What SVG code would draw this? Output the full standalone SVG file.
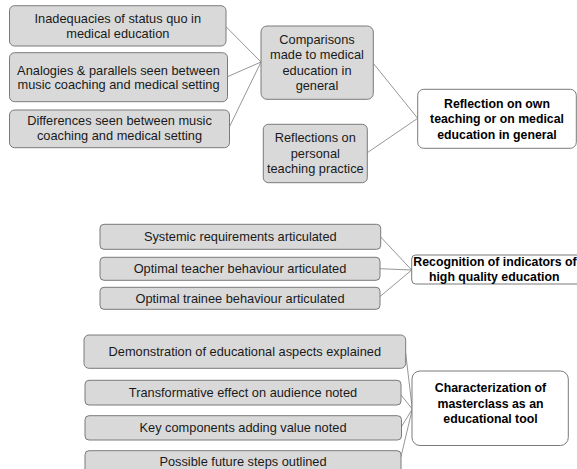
<svg xmlns="http://www.w3.org/2000/svg" width="577" height="469" viewBox="0 0 577 469">
<style>
.g{fill:#d9d9d9;stroke:#7a7a7a;stroke-width:1}
.w{fill:#ffffff;stroke:#7a7a7a;stroke-width:1}
.t{font-family:"Liberation Sans",Arial,sans-serif;font-size:12.8px;fill:#1a1a1a;text-anchor:middle}
.b{font-family:"Liberation Sans",Arial,sans-serif;font-size:12.3px;font-weight:bold;fill:#000;text-anchor:middle}
.c line{stroke:#8a8a8a;stroke-width:0.9}
</style>
<rect width="577" height="469" fill="#ffffff"/>
<g class="c" id="connectors">
<line x1="226" y1="26.7" x2="261" y2="62"/>
<line x1="227.5" y1="76.7" x2="261" y2="62"/>
<line x1="229.5" y1="126.7" x2="261" y2="62"/>
<line x1="373.3" y1="63.3" x2="417.7" y2="118.3"/>
<line x1="367.3" y1="152.7" x2="417.7" y2="118.3"/>
<line x1="380.7" y1="237" x2="411.7" y2="270"/>
<line x1="380" y1="268.7" x2="411.7" y2="270"/>
<line x1="380" y1="296.5" x2="411.7" y2="270"/>
<line x1="405.7" y1="353.3" x2="412.3" y2="409"/>
<line x1="401" y1="395" x2="412.3" y2="409"/>
<line x1="401.5" y1="426.7" x2="412.3" y2="409"/>
<line x1="401" y1="456.7" x2="412.3" y2="409"/>
</g>
<g id="n1"><rect class="g" x="9.5" y="5.7" width="216.5" height="40.3" rx="5"/>
<text class="t" x="117.8" y="22.8">Inadequacies of status quo in</text>
<text class="t" x="117.8" y="37.8">medical education</text></g>
<g id="n2"><rect class="g" x="9.5" y="52.7" width="218" height="49" rx="5"/>
<text class="t" x="118.5" y="74.5">Analogies &amp; parallels seen between</text>
<text class="t" x="118.5" y="89">music coaching and medical setting</text></g>
<g id="n3"><rect class="g" x="9.5" y="110" width="220" height="37.7" rx="5"/>
<text class="t" x="119.5" y="124.5">Differences seen between music</text>
<text class="t" x="119.5" y="139.5">coaching and medical setting</text></g>
<g id="n4"><rect class="g" x="261" y="26" width="112.3" height="73.3" rx="6"/>
<text class="t" x="317" y="43.8">Comparisons</text>
<text class="t" x="317" y="58.8">made to medical</text>
<text class="t" x="317" y="74.5">education in</text>
<text class="t" x="317" y="89.5">general</text></g>
<g id="n5"><rect class="g" x="263.3" y="124.3" width="104" height="58.4" rx="5"/>
<text class="t" x="315.3" y="142">Reflections on</text>
<text class="t" x="315.3" y="157.5">personal</text>
<text class="t" x="315.3" y="172.8">teaching practice</text></g>
<g id="n6"><rect class="w" x="417.7" y="89.3" width="158.6" height="59" rx="6"/>
<text class="b" x="497" y="107.6">Reflection on own</text>
<text class="b" x="497" y="122.8">teaching or on medical</text>
<text class="b" x="497" y="138.5">education in general</text></g>
<g id="n7"><rect class="g" x="100" y="224.3" width="280.7" height="25" rx="4"/>
<text class="t" x="240.3" y="241.2">Systemic requirements articulated</text></g>
<g id="n8"><rect class="g" x="100" y="257.3" width="280" height="23" rx="4"/>
<text class="t" x="240" y="272.8">Optimal teacher behaviour articulated</text></g>
<g id="n9"><rect class="g" x="100" y="287.3" width="280" height="22" rx="4"/>
<text class="t" x="240" y="302.8">Optimal trainee behaviour articulated</text></g>
<g id="n10"><rect class="w" x="411.7" y="255" width="172" height="29" rx="4"/>
<text class="b" x="495" y="266">Recognition of indicators of</text>
<text class="b" x="494.2" y="281">high quality education</text></g>
<g id="n11"><rect class="g" x="84" y="335" width="321.7" height="33.3" rx="5"/>
<text class="t" x="244.8" y="356.2">Demonstration of educational aspects explained</text></g>
<g id="n12"><rect class="g" x="85" y="380.3" width="316" height="24.7" rx="4"/>
<text class="t" x="243" y="397.2">Transformative effect on audience noted</text></g>
<g id="n13"><rect class="g" x="85" y="415.7" width="316.5" height="24.3" rx="4"/>
<text class="t" x="243" y="431.8">Key components adding value noted</text></g>
<g id="n14"><rect class="g" x="85" y="450.7" width="316" height="30" rx="4"/>
<text class="t" x="243" y="465.5">Possible future steps outlined</text></g>
<g id="n15"><rect class="w" x="412" y="371" width="156.3" height="74.5" rx="8"/>
<text class="b" x="490.5" y="392">Characterization of</text>
<text class="b" x="490.5" y="407.6">masterclass as an</text>
<text class="b" x="490.5" y="422.6">educational tool</text></g>
</svg>
